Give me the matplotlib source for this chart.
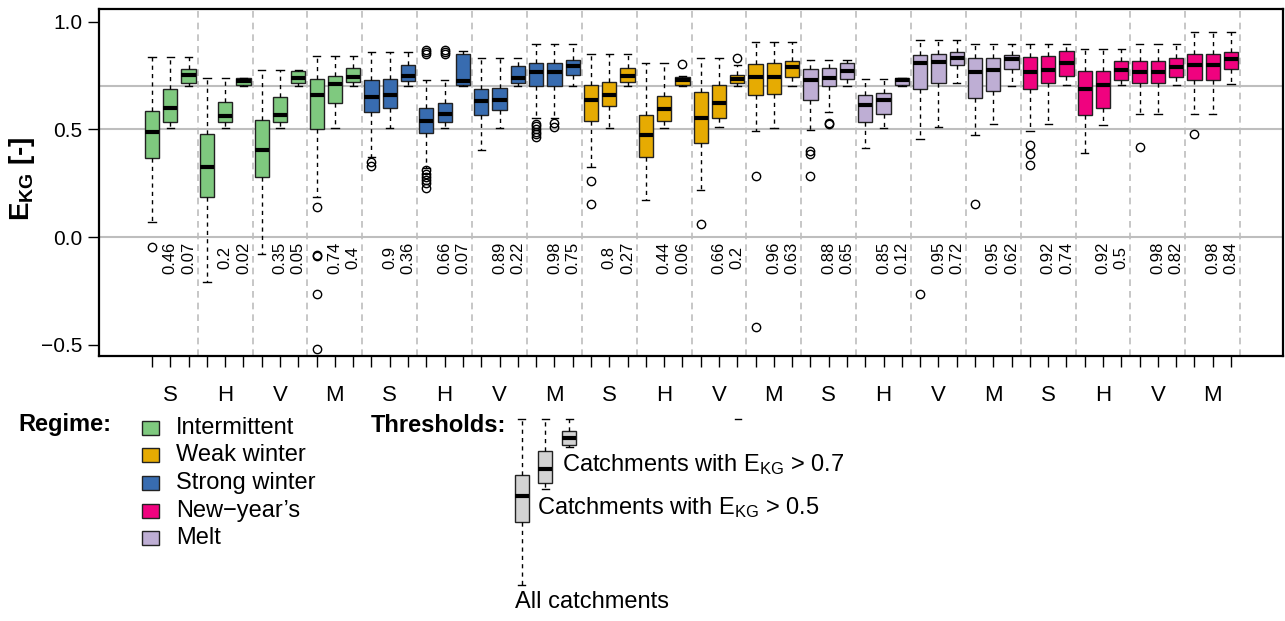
import matplotlib
matplotlib.use('Agg')
import matplotlib.pyplot as plt
import matplotlib.lines as mlines
from matplotlib.patches import Rectangle

plt.rcParams['font.family'] = ['Liberation Sans', 'DejaVu Sans']
plt.rcParams['mathtext.fontset'] = 'custom'
plt.rcParams['mathtext.rm'] = 'Liberation Sans'
plt.rcParams['mathtext.bf'] = 'Liberation Sans:bold'
plt.rcParams['mathtext.it'] = 'Liberation Sans:italic'

# regimes in plotting order, 4 signatures each, 3 thresholds per signature
regimes = ['Intermittent', 'Strong winter', 'Weak winter', 'Melt', 'New\u2212year\u2019s']
regime_colors = ['#7FC97F', '#386CB0', '#E6AB02', '#BEAED4', '#F0027F']
legend_order = ['Intermittent', 'Weak winter', 'Strong winter', 'New\u2212year\u2019s', 'Melt']
metrics = ['S', 'H', 'V', 'M']

# box statistics (60 boxes: all / >0.5 / >0.7 for each regime x signature)
wlo = [0.068, 0.508, 0.703, -0.207, 0.508, 0.703, -0.079, 0.508, 0.703, 0.187, 0.508, 0.703,
       0.373, 0.508, 0.703, 0.322, 0.508, 0.703, 0.404, 0.508, 0.703, 0.551, 0.551, 0.703,
       0.324, 0.508, 0.703, 0.172, 0.508, 0.703, 0.217, 0.512, 0.703, 0.491, 0.509, 0.703,
       0.497, 0.582, 0.703, 0.412, 0.505, 0.703, 0.457, 0.512, 0.718, 0.474, 0.526, 0.704,
       0.491, 0.525, 0.707, 0.392, 0.520, 0.707, 0.570, 0.570, 0.706, 0.570, 0.570, 0.712]
q1 = [0.367, 0.536, 0.714, 0.187, 0.537, 0.706, 0.279, 0.537, 0.718, 0.500, 0.622, 0.720,
      0.582, 0.602, 0.723, 0.483, 0.537, 0.709, 0.565, 0.590, 0.718, 0.703, 0.703, 0.754,
      0.540, 0.607, 0.720, 0.372, 0.539, 0.709, 0.438, 0.554, 0.714, 0.658, 0.663, 0.746,
      0.639, 0.701, 0.735, 0.536, 0.573, 0.706, 0.686, 0.715, 0.802, 0.644, 0.678, 0.782,
      0.686, 0.714, 0.748, 0.565, 0.601, 0.732, 0.714, 0.714, 0.743, 0.728, 0.731, 0.782]
med = [0.488, 0.599, 0.751, 0.324, 0.563, 0.724, 0.406, 0.568, 0.741, 0.658, 0.712, 0.743,
       0.649, 0.661, 0.748, 0.540, 0.574, 0.726, 0.632, 0.639, 0.741, 0.766, 0.766, 0.794,
       0.639, 0.659, 0.749, 0.475, 0.594, 0.729, 0.554, 0.622, 0.734, 0.745, 0.746, 0.789,
       0.728, 0.740, 0.774, 0.613, 0.639, 0.731, 0.808, 0.814, 0.833, 0.766, 0.777, 0.828,
       0.765, 0.776, 0.808, 0.690, 0.706, 0.776, 0.768, 0.769, 0.789, 0.799, 0.802, 0.827]
q3 = [0.588, 0.686, 0.783, 0.481, 0.630, 0.738, 0.543, 0.653, 0.772, 0.734, 0.749, 0.785,
      0.728, 0.734, 0.800, 0.602, 0.624, 0.853, 0.687, 0.695, 0.793, 0.810, 0.810, 0.825,
      0.709, 0.720, 0.786, 0.567, 0.655, 0.745, 0.672, 0.709, 0.755, 0.805, 0.807, 0.816,
      0.779, 0.786, 0.808, 0.661, 0.669, 0.738, 0.848, 0.851, 0.861, 0.833, 0.833, 0.844,
      0.837, 0.842, 0.864, 0.772, 0.772, 0.820, 0.816, 0.816, 0.833, 0.851, 0.851, 0.861]
whi = [0.837, 0.837, 0.837, 0.741, 0.741, 0.741, 0.776, 0.776, 0.776, 0.842, 0.842, 0.842,
       0.858, 0.858, 0.858, 0.729, 0.729, 0.865, 0.834, 0.834, 0.834, 0.899, 0.899, 0.899,
       0.853, 0.853, 0.853, 0.807, 0.807, 0.748, 0.834, 0.834, 0.799, 0.907, 0.907, 0.907,
       0.825, 0.825, 0.825, 0.735, 0.735, 0.738, 0.918, 0.918, 0.918, 0.899, 0.899, 0.899,
       0.899, 0.899, 0.899, 0.873, 0.873, 0.873, 0.899, 0.899, 0.899, 0.954, 0.954, 0.954]
# outliers, keyed by box number (1-based)
fliers = {
    1: [-0.048],
    10: [0.141, -0.084, -0.090, -0.265, -0.522],
    13: [0.350, 0.331],
    16: [0.871, 0.862, 0.853, 0.310, 0.295, 0.280, 0.265, 0.250, 0.228],
    17: [0.871, 0.862, 0.853],
    22: [0.527, 0.515, 0.503, 0.490, 0.478, 0.465],
    23: [0.528, 0.512],
    25: [0.262, 0.153],
    30: [0.803],
    31: [0.060],
    33: [0.834],
    34: [0.283, -0.416],
    37: [0.400, 0.385, 0.283],
    38: [0.531, 0.525],
    43: [-0.265],
    46: [0.153],
    49: [0.430, 0.384, 0.337],
    55: [0.420],
    58: [0.478],
}

# share of catchments above 0.5 and 0.7 per regime/signature
frac_05 = [0.46, 0.2, 0.35, 0.74, 0.9, 0.66, 0.89, 0.98, 0.8, 0.44,
           0.66, 0.96, 0.88, 0.85, 0.95, 0.95, 0.92, 0.92, 0.98, 0.98]
frac_07 = [0.07, 0.02, 0.05, 0.4, 0.36, 0.07, 0.22, 0.75, 0.27, 0.06,
           0.2, 0.63, 0.65, 0.12, 0.72, 0.62, 0.74, 0.5, 0.82, 0.84]

# threshold key (schematic boxes)
key_wlo = [0.125, 0.605, 0.8165]
key_q1 = [0.44, 0.635, 0.825]
key_med = [0.5715, 0.705, 0.8615]
key_q3 = [0.675, 0.795, 0.8965]
key_whi = [0.955, 0.955, 0.955]
key_labels = ['All catchments', 'Catchments with E$_{\\mathrm{KG}}$ > 0.5',
              'Catchments with E$_{\\mathrm{KG}}$ > 0.7']

W, H = 1285, 621
fig = plt.figure(figsize=(W / 100, H / 100), dpi=100)


def px(x, y):
    return x / W, 1 - y / H


ax = fig.add_axes([99 / W, 1 - 356 / H, 1184 / W, 347 / H])

n = len(med)
positions = list(range(1, n + 1))
stats = []
for i in range(n):
    stats.append(dict(whislo=wlo[i], q1=q1[i], med=med[i], q3=q3[i],
                      whishi=whi[i], fliers=fliers.get(i + 1, [])))

for y in [0.7, 0.5, 0.0]:
    ax.axhline(y, color='#BEBEBE', lw=1.5, zorder=0)
for g in range(1, 21):
    ax.axvline(3 * g + 0.5, color='#BEBEBE', ls=(0, (4, 3)), lw=1.2, zorder=0)

bp = ax.bxp(stats, positions=positions, widths=0.78, patch_artist=True,
            boxprops=dict(lw=1, edgecolor='#222222'),
            medianprops=dict(color='black', lw=3, solid_capstyle='butt'),
            whiskerprops=dict(ls=(0, (3, 3)), lw=1, color='black'),
            capprops=dict(lw=1, color='black'), capwidths=0.4,
            flierprops=dict(marker='o', mfc='none', mec='black', ms=6, mew=1))
for i, box in enumerate(bp['boxes']):
    box.set_facecolor(regime_colors[i // 12])

for g in range(20):
    ax.text(3 * g + 2, -0.096, f'{frac_05[g]:g}', rotation=90, ha='center', va='center', fontsize=12)
    ax.text(3 * g + 3, -0.096, f'{frac_07[g]:g}', rotation=90, ha='center', va='center', fontsize=12)

ax.set_xlim(-1.9, 62.84)
ax.set_ylim(-0.553, 1.06)
ax.set_yticks([-0.5, 0.0, 0.5, 1.0])
ax.set_yticklabels(['\u22120.5', '0.0', '0.5', '1.0'], fontsize=15)
ax.set_xticks([3 * g + 2 for g in range(20)])
ax.set_xticklabels(metrics * 5, fontsize=16)
ax.set_xticks(positions, minor=True)
ax.tick_params(axis='x', which='both', length=8, width=1, pad=13)
ax.tick_params(axis='y', length=8, width=1, pad=4)
for s in ax.spines.values():
    s.set_linewidth(1.6)

fig.text(*px(22, 179), r'$\mathbf{E_{KG}}$ [-]', rotation=90, ha='center', va='center',
         fontsize=20, fontweight='bold')

# regime legend
fig.text(*px(18, 425), 'Regime:', fontsize=17, fontweight='bold', ha='left', va='center')
row_y = [428, 455, 483, 511, 538]
for name, yc in zip(legend_order, row_y):
    c = regime_colors[regimes.index(name)]
    x0, y0 = px(142, yc + 7)
    fig.add_artist(Rectangle((x0, y0), 17 / W, 14 / H, transform=fig.transFigure,
                             facecolor=c, edgecolor='#222222', lw=1))
    fig.text(*px(176, yc), name, fontsize=17, ha='left', va='center')

# threshold legend
fig.text(*px(371, 425), 'Thresholds:', fontsize=17, fontweight='bold', ha='left', va='center')
lax = fig.add_axes([500 / W, 1 - 610 / H, 100 / W, 200 / H])
key_stats = [dict(whislo=key_wlo[i], q1=key_q1[i], med=key_med[i], q3=key_q3[i],
                  whishi=key_whi[i], fliers=[]) for i in range(3)]
kb = lax.bxp(key_stats, positions=[1, 2, 3], widths=0.59, patch_artist=True,
             boxprops=dict(lw=1, edgecolor='#222222', facecolor='#D3D3D3'),
             medianprops=dict(color='black', lw=3, solid_capstyle='butt'),
             whiskerprops=dict(ls=(0, (3, 3)), lw=1, color='black'),
             capprops=dict(lw=1, color='black'), capwidths=0.3)
lax.set_xlim(0.084, 4.30)
lax.set_ylim(0, 1)
lax.axis('off')

fig.text(*px(515, 602), key_labels[0], fontsize=17, ha='left', va='center')
fig.text(*px(537, 508), key_labels[1], fontsize=17, ha='left', va='center')
fig.text(*px(562, 465), key_labels[2], fontsize=17, ha='left', va='center')
fig.add_artist(mlines.Line2D([735 / W, 741 / W], [1 - 419 / H] * 2,
                             transform=fig.transFigure, color='black', lw=1))

fig.savefig('out.png', dpi=100)
